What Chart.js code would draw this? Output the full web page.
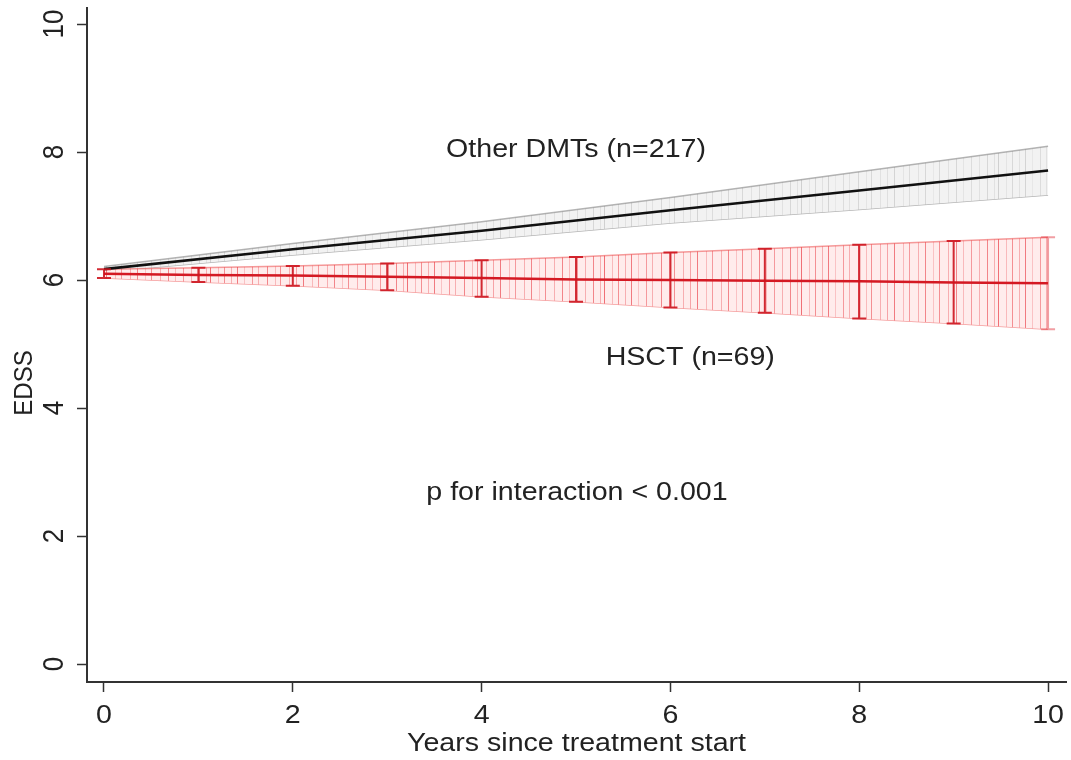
<!DOCTYPE html>
<html><head><meta charset="utf-8">
<script src="https://cdn.jsdelivr.net/npm/chart.js@4/dist/chart.umd.min.js"></script>
<style>html,body{margin:0;padding:0;background:#fff}canvas{display:block}</style>
</head><body>
<canvas id="c" width="1071" height="760"></canvas>
<script>
// ---- data ----
const tickValues = [0, 2, 4, 6, 8, 10];
const tickLabels = ['0', '2', '4', '6', '8', '10'];
const otherYears = [0, 2, 4, 6, 8, 10];
const otherMean  = [6.17, 6.48, 6.77, 7.09, 7.40, 7.71];
const otherUpper = [6.21, 6.57, 6.91, 7.29, 7.69, 8.09];
const otherLower = [6.13, 6.39, 6.63, 6.89, 7.10, 7.33];
const hsctYears  = [0, 1, 2, 3, 4, 5, 6, 7, 8, 9, 10];
const hsctMean   = [6.10, 6.08, 6.07, 6.05, 6.03, 6.01, 6.00, 5.99, 5.98, 5.96, 5.95];
const hsctUpper  = [6.17, 6.19, 6.22, 6.26, 6.31, 6.36, 6.43, 6.49, 6.55, 6.61, 6.67];
const hsctLower  = [6.03, 5.97, 5.91, 5.84, 5.74, 5.66, 5.57, 5.49, 5.40, 5.32, 5.23];
const noteTexts  = ['Other DMTs (n=217)', 'HSCT (n=69)', 'p for interaction < 0.001'];
const noteX      = [5.0, 6.21, 5.01];
const noteY      = [8.03, 4.78, 2.67];
const xTitle = 'Years since treatment start';
const yTitle = 'EDSS';

const FONT = '"Liberation Sans", Arial, sans-serif';
const TXT = '#222';
const STRETCH = 1.1;
const pts = (xs, ys) => xs.map((x, i) => ({ x: x, y: ys[i] }));

const cv = document.getElementById('c');
const ctx0 = cv.getContext('2d');
function stripePattern(bg, stripe, offsets, w) {
  const c = document.createElement('canvas');
  c.width = w; c.height = 4;
  const g = c.getContext('2d');
  g.fillStyle = bg; g.fillRect(0, 0, w, 4);
  offsets.forEach(function (o) { g.fillStyle = stripe.replace('A', o[1]); g.fillRect(o[0], 0, 1, 4); });
  return ctx0.createPattern(c, 'repeat');
}
const stripeOffsets = [[2,0.5],[9,0.3],[13,0.6],[21,0.25],[27,0.45],[34,0.3],[40,0.55],[47,0.2],[55,0.4],[61,0.3],[70,0.5],[78,0.25],[83,0.45],[92,0.3],[99,0.35],[106,0.55],[115,0.25],[121,0.4],[130,0.3],[137,0.5],[145,0.2],[151,0.45],[160,0.3],[168,0.5],[175,0.25],[183,0.4],[191,0.3]];
const redFill  = stripePattern('rgba(255,236,236,1)', 'rgba(230,30,40,A)', stripeOffsets, 197);
const grayFill = stripePattern('rgba(242,242,242,1)', 'rgba(120,120,120,A)', stripeOffsets.map(function (o) { return [o[0], o[1] * 0.45]; }), 197);

function stretchedText(c, text, x, y, rot) {
  c.save();
  c.translate(x, y);
  c.scale(STRETCH, 1);
  if (rot) c.rotate(-Math.PI / 2);
  c.fillText(text, 0, 0);
  c.restore();
}

const errorBars = {
  id: 'errorBars',
  afterDatasetsDraw(chart) {
    const xs = chart.scales.x, ys = chart.scales.y, c = chart.ctx;
    c.save();
    hsctYears.forEach(function (yr, i) {
      const px = xs.getPixelForValue(yr);
      const y1 = ys.getPixelForValue(hsctUpper[i]);
      const y2 = ys.getPixelForValue(hsctLower[i]);
      c.strokeStyle = i === hsctYears.length - 1 ? 'rgba(225,40,50,0.45)' : 'rgba(205,20,30,0.9)';
      c.lineWidth = 2;
      c.beginPath();
      c.moveTo(px, y1); c.lineTo(px, y2);
      c.moveTo(px - 7, y1); c.lineTo(px + 7, y1);
      c.moveTo(px - 7, y2); c.lineTo(px + 7, y2);
      c.stroke();
    });
    c.restore();
  }
};

const texts = {
  id: 'texts',
  afterDraw(chart) {
    const xs = chart.scales.x, ys = chart.scales.y, c = chart.ctx;
    c.save();
    c.fillStyle = TXT;
    c.textAlign = 'center';
    c.textBaseline = 'middle';
    c.font = '26px ' + FONT;
    tickValues.forEach(function (v, i) {
      stretchedText(c, tickLabels[i], 55, ys.getPixelForValue(v), true);
      stretchedText(c, tickLabels[i], xs.getPixelForValue(v), 716, false);
    });
    stretchedText(c, xTitle, (chart.chartArea.left + chart.chartArea.right) / 2, 744, false);
    c.font = '24px ' + FONT;
    stretchedText(c, yTitle, 25, 383, true);
    c.font = '26px ' + FONT;
    noteTexts.forEach(function (t, i) {
      stretchedText(c, t, xs.getPixelForValue(noteX[i]), ys.getPixelForValue(noteY[i]), false);
    });
    c.restore();
  }
};

new Chart(cv, {
  type: 'line',
  data: {
    datasets: [
      { data: pts(otherYears, otherMean), borderColor: '#111', borderWidth: 2.6, pointRadius: 0, fill: false, order: 0 },
      { data: pts(hsctYears, hsctMean), borderColor: 'rgb(212,25,35)', borderWidth: 2.5, pointRadius: 0, fill: false, order: 1 },
      { data: pts(otherYears, otherUpper), borderColor: 'rgba(120,120,120,0.55)', borderWidth: 1.5, pointRadius: 0, fill: '+1', backgroundColor: grayFill, order: 3 },
      { data: pts(otherYears, otherLower), borderColor: 'rgba(120,120,120,0.55)', borderWidth: 1.5, pointRadius: 0, fill: false, order: 3 },
      { data: pts(hsctYears, hsctUpper), borderColor: 'rgba(235,60,60,0.5)', borderWidth: 1.5, pointRadius: 0, fill: '+1', backgroundColor: redFill, order: 2 },
      { data: pts(hsctYears, hsctLower), borderColor: 'rgba(235,60,60,0.5)', borderWidth: 1.5, pointRadius: 0, fill: false, order: 2 }
    ]
  },
  options: {
    responsive: false,
    animation: false,
    layout: { padding: { top: 8, right: 5, left: 0, bottom: 0 } },
    plugins: { legend: { display: false }, tooltip: { enabled: false } },
    elements: { line: { tension: 0 } },
    scales: {
      x: {
        type: 'linear', min: -0.18, max: 10.19,
        afterBuildTicks: function (s) { s.ticks = tickValues.map(function (v) { return { value: v }; }); },
        afterFit: function (s) { s.height = 78; },
        grid: { drawOnChartArea: false, drawTicks: true, tickLength: 10, color: '#333', tickWidth: 1.5 },
        border: { display: true, color: '#333', width: 2 },
        ticks: { display: false },
        title: { display: false }
      },
      y: {
        type: 'linear', min: -0.28, max: 10.25,
        afterBuildTicks: function (s) { s.ticks = tickValues.map(function (v) { return { value: v }; }); },
        afterFit: function (s) { s.width = 87; },
        grid: { drawOnChartArea: false, drawTicks: true, tickLength: 10, color: '#333', tickWidth: 1.5 },
        border: { display: true, color: '#333', width: 2 },
        ticks: { display: false },
        title: { display: false }
      }
    }
  },
  plugins: [errorBars, texts]
});
</script>
</body></html>
